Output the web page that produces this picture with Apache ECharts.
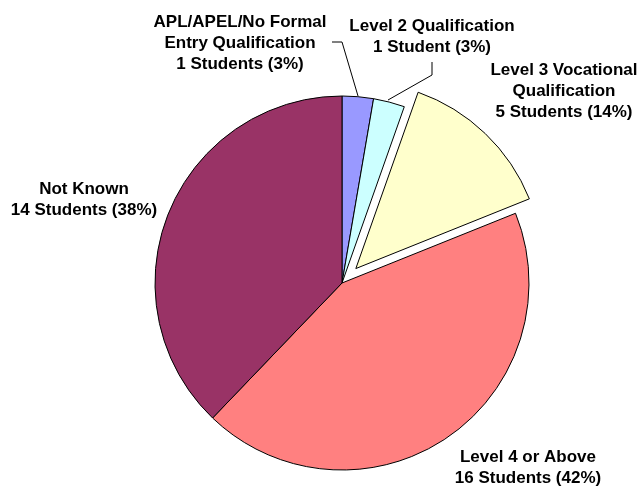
<!DOCTYPE html>
<html>
<head>
<meta charset="utf-8">
<script src="https://cdn.jsdelivr.net/npm/echarts@6/dist/echarts.min.js"></script>
<style>
  html, body { margin: 0; padding: 0; background: #fff; }
  #echart { width: 642px; height: 486px; }
</style>
</head>
<body>
<div id="echart"></div>
<script>
var categories = ["APL/APEL/No Formal\nEntry Qualification", "Level 2 Qualification", "Level 3 Vocational\nQualification", "Level 4 or Above", "Not Known"];
var students = [1, 1, 5, 16, 14];
var pctLabels = [3, 3, 14, 42, 38];
var unitWords = ["Students", "Student", "Students", "Students", "Students"];
var colors = ["#9999FF", "#CCFFFF", "#FFFFCC", "#FF8080", "#993366"];

var explodedIndex = 2;
var explodeDist = 20;
var cx = 342, cy = 283, r = 187;

// label anchor points (centre of each text block) and leader lines
var labelPos = [[240, 43], [432, 37], [564, 91], [528, 468], [84, 200]];
var leaderLines = {
    0: [[358, 96], [342, 42], [332, 42]],
    1: [[388, 100], [432, 75], [432, 62]]
};

// offset of the pulled-out slice, along its mid angle (clockwise from 12 o'clock)
var total = students.reduce(function (a, b) { return a + b; }, 0);
var before = 0;
for (var k = 0; k < explodedIndex; k++) before += students[k];
var midAngle = (before + students[explodedIndex] / 2) / total * 2 * Math.PI;
var offX = explodeDist * Math.sin(midAngle);
var offY = -explodeDist * Math.cos(midAngle);

var chartDom = document.getElementById('echart');
var myChart = echarts.init(chartDom);

var hidden = { color: "rgba(0,0,0,0)", borderWidth: 0 };

var mainData = categories.map(function (name, i) {
    return {
        name: name,
        value: students[i],
        itemStyle: i === explodedIndex ? hidden : { color: colors[i] },
        labelLine: { show: leaderLines[i] !== undefined }
    };
});

var explodedData = categories.map(function (name, i) {
    return {
        name: name,
        value: students[i],
        itemStyle: i === explodedIndex ? { color: colors[i] } : hidden
    };
});

var option = {
    animation: false,
    series: [{
        type: "pie",
        center: [cx, cy],
        radius: r,
        startAngle: 90,
        clockwise: true,
        avoidLabelOverlap: false,
        data: mainData,
        itemStyle: {
            borderColor: "#000",
            borderWidth: 1
        },
        emphasis: { disabled: true },
        label: {
            show: true,
            position: "outside",
            color: "#000",
            fontFamily: "'Liberation Sans', Arial, sans-serif",
            fontWeight: "bold",
            fontSize: 17,
            lineHeight: 21,
            align: "center",
            formatter: function (p) {
                var i = p.dataIndex;
                return p.name + "\n" + students[i] + " " + unitWords[i] + " (" + pctLabels[i] + "%)";
            }
        },
        labelLine: {
            lineStyle: { color: "#000", width: 1 }
        },
        labelLayout: function (params) {
            var i = params.dataIndex;
            var out = {
                x: labelPos[i][0],
                y: labelPos[i][1],
                align: "center",
                verticalAlign: "middle"
            };
            if (leaderLines[i]) {
                out.labelLinePoints = leaderLines[i];
            }
            return out;
        }
    }, {
        type: "pie",
        center: [cx + offX, cy + offY],
        radius: r,
        startAngle: 90,
        clockwise: true,
        silent: true,
        data: explodedData,
        itemStyle: {
            borderColor: "#000",
            borderWidth: 1
        },
        label: { show: false },
        labelLine: { show: false },
        emphasis: { disabled: true }
    }]
};

myChart.setOption(option);

window.addEventListener("resize", function () {
    myChart.resize();
});
</script>
</body>
</html>
